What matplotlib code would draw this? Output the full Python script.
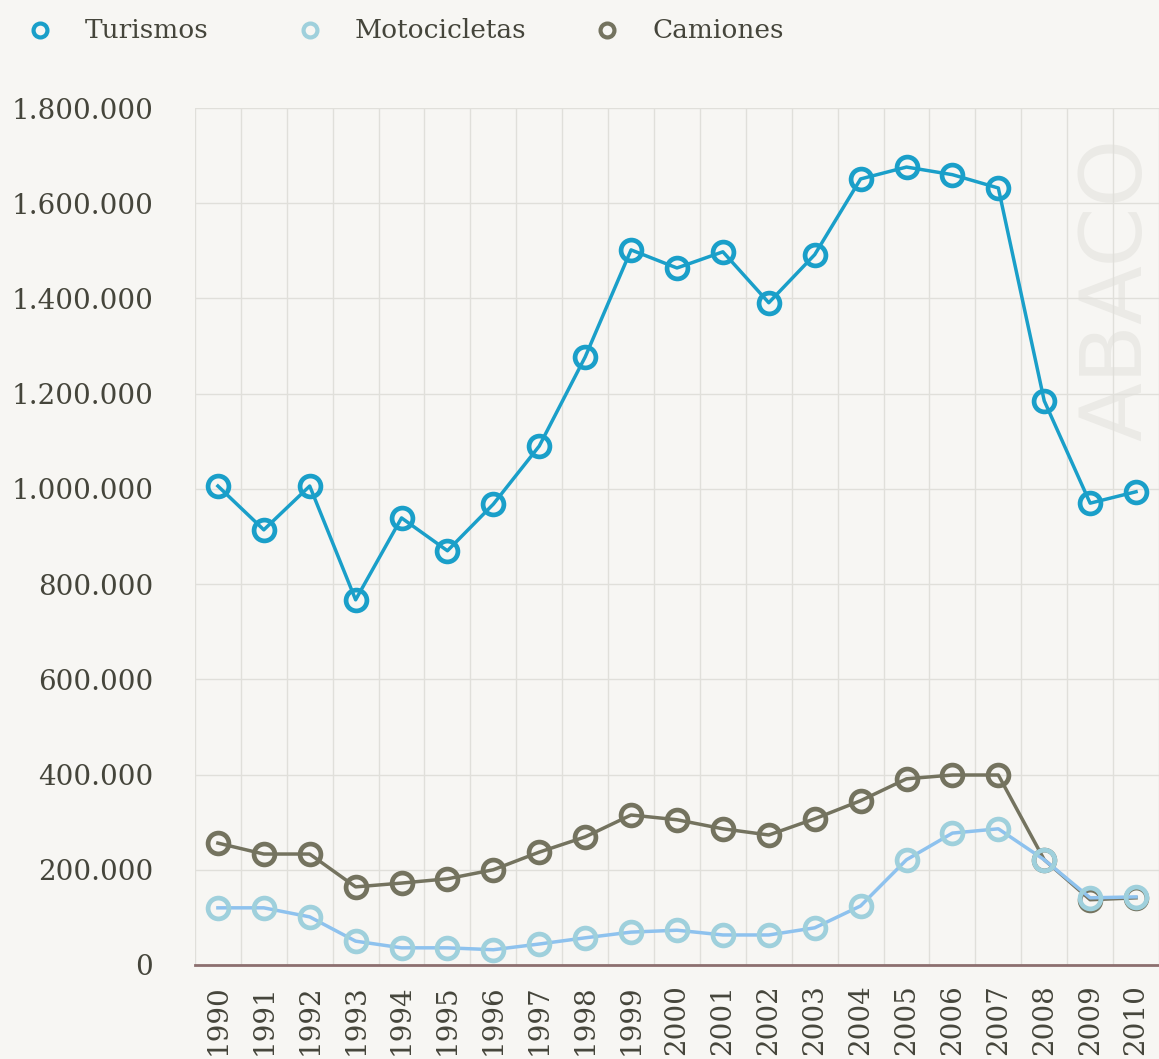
import matplotlib
matplotlib.use("Agg")
import matplotlib.pyplot as plt
from matplotlib.lines import Line2D
from matplotlib.ticker import FixedLocator, FuncFormatter

# data
years = [str(y) for y in range(1990, 2011)]
turismos = [1006000, 914000, 1006000, 767000, 939000, 870000, 968000, 1090000,
            1277000, 1502000, 1464000, 1498000, 1391000, 1492000, 1651000,
            1676000, 1660000, 1632000, 1185000, 970000, 994000]
motocicletas = [120000, 120000, 101000, 50000, 36000, 36000, 32000, 44000,
                57000, 69000, 73000, 63000, 63000, 78000, 124000, 221000,
                277000, 286000, 221000, 141000, 143000]
camiones = [256000, 233000, 233000, 164000, 172000, 181000, 200000, 237000,
            269000, 315000, 305000, 286000, 273000, 307000, 345000, 391000,
            399000, 399000, 221000, 137000, 141000]
y_ticks = list(range(0, 1800001, 200000))

bg = "#f7f6f3"
txt_color = "#45453b"
font = "DejaVu Serif"

fig = plt.figure(figsize=(11.59, 10.59), dpi=100, facecolor=bg)
ax = fig.add_axes([0.1682, 0.0888, 0.8318, 0.8092], facecolor=bg)

x = list(range(len(years)))

# watermark
ax.text(19.6, 1420000, "ABACO", rotation=90, fontsize=62, color="#ebeae6",
        family="DejaVu Sans", ha="center", va="center", zorder=0)

series = [
    (camiones, "#74735f", "#74735f", "Camiones", 3),
    (motocicletas, "#8ec2ee", "#9fd0dc", "Motocicletas", 4),
    (turismos, "#1a9fc9", "#1a9fc9", "Turismos", 5),
]
for vals, lc, mc, name, z in series:
    ax.plot(x, vals, color=lc, lw=2.5, marker="o", markersize=15,
            markerfacecolor="none", markeredgecolor=mc, markeredgewidth=3.4,
            zorder=z, solid_joinstyle="round")

ax.set_xlim(-0.5, len(years) - 0.5)
ax.set_ylim(0, 1800000)

ax.set_xticks(x)
ax.set_xticklabels(years, rotation=90, fontsize=20, family=font, color=txt_color)
ax.xaxis.set_minor_locator(FixedLocator([i - 0.5 for i in range(len(years) + 1)]))
ax.set_yticks(y_ticks)
ax.yaxis.set_major_formatter(FuncFormatter(lambda v, p: f"{int(v):,}".replace(",", ".")))
for lab in ax.get_yticklabels():
    lab.set_fontsize(20)
    lab.set_family(font)
    lab.set_color(txt_color)

ax.tick_params(axis="both", which="both", length=0)
ax.tick_params(axis="y", pad=30)
ax.tick_params(axis="x", pad=14)

ax.grid(True, axis="y", which="major", color="#e0dfda", lw=1)
ax.grid(True, axis="x", which="minor", color="#e0dfda", lw=1)
ax.grid(False, axis="x", which="major")
ax.set_axisbelow(True)

for s in ["top", "right", "left"]:
    ax.spines[s].set_visible(False)
ax.spines["bottom"].set_color("#8c6f6f")
ax.spines["bottom"].set_linewidth(2)

# legend across the top
legend_items = [("Turismos", "#1a9fc9", 40), ("Motocicletas", "#9fd0dc", 310),
                ("Camiones", "#74735f", 607)]
W, H = 1159, 1059
for name, c, px in legend_items:
    fig.add_artist(Line2D([px / W], [1 - 30 / H], marker="o", markersize=10,
                          markerfacecolor="none", markeredgecolor=c,
                          markeredgewidth=3, transform=fig.transFigure))
    fig.text((px + 45) / W, 1 - 30 / H, name, fontsize=19, family=font,
             color=txt_color, va="center", ha="left")

fig.savefig("out.png", dpi=100, facecolor=bg)
